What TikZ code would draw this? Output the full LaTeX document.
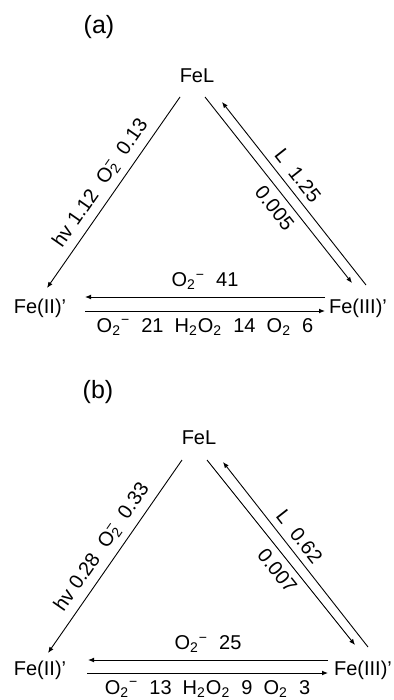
\documentclass[tikz,border=0pt]{standalone}
\usepackage{fontspec}
\setmainfont{Liberation Sans}
\usetikzlibrary{arrows.meta}
\newcommand{\Osup}{O\textsubscript{2}\textsuperscript{−}}
\newcommand{\Ostack}{O\rlap{\textsuperscript{−}}\textsubscript{2}}
\newcommand{\Otwo}{O\textsubscript{2}}
\newcommand{\HHOO}{H\textsubscript{2}O\textsubscript{2}}

\begin{document}
\begin{tikzpicture}[x=0.5pt,y=-0.5pt,every node/.style={font=\fontsize{10}{12}\selectfont},
    rx/.style={-{Latex[length=3pt,width=2.4pt]},line width=0.45pt}]
  \useasboundingbox (0,0) rectangle (394,700);

  \node (tag-a) at (99,27) {\fontsize{12.5}{14}\selectfont (a)};
  \node (fel-a) at (197,76) {FeL};
  \node (fe2-a) at (40,308) {Fe(II)'};
  \node (fe3-a) at (358,308) {Fe(III)'};
  \draw[rx] ([shift={(-17,21)}]fel-a.center) -- node[above,sloped] {hv\ 1.12\ \ \Ostack\ \ 0.13} ([shift={(7,-20)}]fe2-a.center);
  \draw[rx] ([shift={(8,-23)}]fe3-a.center) -- node[above,sloped,pos=0.55] {L\ \ 1.25} ([shift={(25,26)}]fel-a.center);
  \draw[rx] ([shift={(8,21)}]fel-a.center) -- node[below,sloped,pos=0.55] {0.005} ([shift={(-6,-25)}]fe3-a.center);
  \draw[rx] ([shift={(-33,-11)}]fe3-a.center) -- node[above] {\Osup\ \ 41} ([shift={(45,-11)}]fe2-a.center);
  \draw[rx] ([shift={(45,3)}]fe2-a.center) -- node[below] {\Osup\ \ 21\ \ \HHOO\ \ 14\ \ \Otwo\ \ 6} ([shift={(-33,3)}]fe3-a.center);

  \node (tag-b) at (98,392) {\fontsize{12.5}{14}\selectfont (b)};
  \node (fel-b) at (199,438) {FeL};
  \node (fe2-b) at (40,670) {Fe(II)'};
  \node (fe3-b) at (363,670) {Fe(III)'};
  \draw[rx] ([shift={(-17,22)}]fel-b.center) -- node[above,sloped] {hv\ 0.28\ \ \Ostack\ \ 0.33} ([shift={(8,-17)}]fe2-b.center);
  \draw[rx] ([shift={(5,-23)}]fe3-b.center) -- node[above,sloped,pos=0.55] {L\ \ 0.62} ([shift={(24,24)}]fel-b.center);
  \draw[rx] ([shift={(8,22)}]fel-b.center) -- node[below,sloped,pos=0.55] {0.007} ([shift={(-8,-25)}]fe3-b.center);
  \draw[rx] ([shift={(-35,-10)}]fe3-b.center) -- node[above] {\Osup\ \ 25} ([shift={(48,-10)}]fe2-b.center);
  \draw[rx] ([shift={(47,3)}]fe2-b.center) -- node[below] {\Osup\ \ 13\ \ \HHOO\ \ 9\ \ \Otwo\ \ 3} ([shift={(-35,3)}]fe3-b.center);
\end{tikzpicture}
\end{document}
